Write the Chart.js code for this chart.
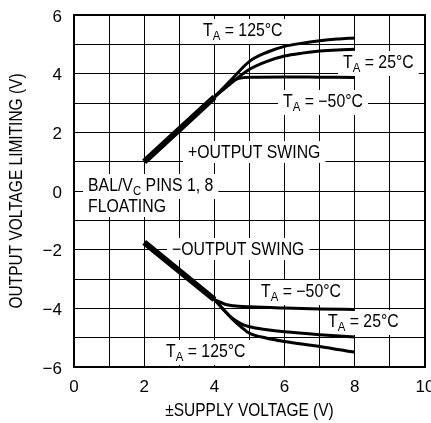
<!DOCTYPE html>
<html>
<head>
<meta charset="utf-8">
<script src="https://cdn.jsdelivr.net/npm/chart.js@4.4.1/dist/chart.umd.min.js"></script>
<style>
  html, body { margin: 0; padding: 0; background: #fff; overflow: hidden; }
  #wrap { width: 431px; height: 423px; }
</style>
</head>
<body>
<div id="wrap"><canvas id="chart" width="431" height="423"></canvas></div>
<script>
// data (x = ±supply voltage, y = output voltage limiting)
const sharedPosX = [2, 4];
const sharedPosY = [1.0, 3.2];
const sharedNegX = [2, 4];
const sharedNegY = [-1.75, -3.7];

const pos125X = [4, 4.5, 5, 5.5, 6, 6.5, 7, 7.5, 8];
const pos125Y = [3.2, 3.82, 4.42, 4.73, 4.93, 5.04, 5.12, 5.18, 5.22];
const pos25X = [4, 4.5, 5, 5.5, 6, 6.5, 7, 7.5, 8];
const pos25Y = [3.2, 3.7, 4.15, 4.42, 4.6, 4.7, 4.77, 4.81, 4.83];
const posM50X = [4, 4.3, 4.5, 4.7, 5, 6, 7, 8];
const posM50Y = [3.2, 3.55, 3.74, 3.84, 3.88, 3.89, 3.88, 3.87];

const negM50X = [4, 4.3, 4.7, 5, 6, 7, 8];
const negM50Y = [-3.7, -3.86, -3.93, -3.95, -3.99, -4.02, -4.04];
const neg25X = [4, 4.5, 4.75, 5, 5.5, 6, 7, 8];
const neg25Y = [-3.7, -4.33, -4.52, -4.63, -4.73, -4.8, -4.9, -4.98];
const neg125X = [4, 4.5, 4.75, 5, 5.5, 6, 7, 8];
const neg125Y = [-3.7, -4.35, -4.62, -4.85, -5.02, -5.13, -5.3, -5.5];

const xTicks = [0, 2, 4, 6, 8, 10];
const yTicks = [-6, -4, -2, 0, 2, 4, 6];
const xTitle = "\u00b1SUPPLY VOLTAGE (V)";
const yTitle = "OUTPUT VOLTAGE LIMITING (V)";

const FONT = "'Liberation Sans', Arial, sans-serif";

function pts(xs, ys) {
  return xs.map((x, i) => ({ x, y: ys[i] }));
}
function curve(xs, ys, w) {
  return {
    data: pts(xs, ys),
    borderColor: "#000",
    borderWidth: w,
    pointRadius: 0,
    showLine: true,
    fill: false,
    cubicInterpolationMode: "monotone",
    borderCapStyle: "butt",
  };
}

// in-plot notes: [x px, baseline px, main, subscript, rest]
const notes = [
  [203, 36, "T", "A", " = 125°C"],
  [343, 68, "T", "A", " = 25°C"],
  [283, 107, "T", "A", " = \u221250°C"],
  [188, 158, "+OUTPUT SWING", "", ""],
  [88, 191, "BAL/V", "C", " PINS 1, 8"],
  [88, 212, "FLOATING", "", ""],
  [172, 255, "\u2212OUTPUT SWING", "", ""],
  [261, 297, "T", "A", " = \u221250°C"],
  [328, 327, "T", "A", " = 25°C"],
  [166, 357, "T", "A", " = 125°C"],
];
const SQ = 0.88; // narrow lettering

const notePlugin = {
  id: "notes",
  beforeDatasetsDraw(chart) {
    const ctx = chart.ctx;
    const big = "18px " + FONT;
    const small = "13px " + FONT;
    notes.forEach(([x, y, a, sub, rest]) => {
      ctx.save();
      ctx.font = big;
      const wa = ctx.measureText(a).width;
      const wr = ctx.measureText(rest).width;
      ctx.font = small;
      const ws = sub ? ctx.measureText(sub).width : 0;
      const w = (wa + ws + wr) * SQ;
      ctx.fillStyle = "#fff";
      ctx.fillRect(x - 5, y - 17, w + 10, sub ? 25 : 22);
      ctx.translate(x, y);
      ctx.scale(SQ, 1);
      ctx.fillStyle = "#000";
      ctx.textBaseline = "alphabetic";
      ctx.textAlign = "left";
      ctx.font = big;
      ctx.fillText(a, 0, 0);
      if (sub) {
        ctx.font = small;
        ctx.fillText(sub, wa, 4);
      }
      ctx.font = big;
      ctx.fillText(rest, wa + ws, 0);
      ctx.restore();
    });
  },
  afterDraw(chart) {
    const { ctx, chartArea: a } = chart;
    ctx.save();
    ctx.strokeStyle = "#000";
    ctx.lineWidth = 2;
    ctx.strokeRect(a.left, a.top, a.right - a.left, a.bottom - a.top);
    // axis titles
    ctx.fillStyle = "#000";
    ctx.font = "18px " + FONT;
    ctx.textAlign = "center";
    ctx.textBaseline = "middle";
    ctx.save();
    ctx.translate((a.left + a.right) / 2, 411);
    ctx.scale(0.86, 1);
    ctx.fillText(xTitle, 0, 0);
    ctx.restore();
    ctx.save();
    ctx.translate(17, (a.top + a.bottom) / 2);
    ctx.rotate(-Math.PI / 2);
    ctx.scale(0.86, 1);
    ctx.fillText(yTitle, 0, 0);
    ctx.restore();
    ctx.restore();
  },
};

new Chart(document.getElementById("chart"), {
  type: "scatter",
  data: {
    datasets: [
      curve(pos125X, pos125Y, 3),
      curve(pos25X, pos25Y, 3),
      curve(posM50X, posM50Y, 3),
      curve(negM50X, negM50Y, 3),
      curve(neg25X, neg25Y, 3),
      curve(neg125X, neg125Y, 3),
      curve(sharedPosX, sharedPosY, 6),
      curve(sharedNegX, sharedNegY, 6),
    ],
  },
  options: {
    responsive: false,
    devicePixelRatio: 1,
    animation: false,
    layout: { padding: { left: 0, top: 15, right: 6, bottom: 0 } },
    plugins: { legend: { display: false }, tooltip: { enabled: false } },
    scales: {
      x: {
        type: "linear",
        min: 0,
        max: 10,
        afterFit: (s) => { s.height = 56; s.paddingLeft = 0; s.paddingRight = 0; },
        ticks: {
          stepSize: 1,
          color: "#000",
          padding: 10,
          maxRotation: 0,
          font: { family: FONT, size: 17 },
          callback: (v) => (xTicks.includes(v) ? String(v) : ""),
        },
        grid: { color: "#000", lineWidth: 1, drawTicks: false },
        border: { display: false },
      },
      y: {
        type: "linear",
        min: -6,
        max: 6,
        afterFit: (s) => { s.width = 74; s.paddingTop = 0; s.paddingBottom = 0; },
        ticks: {
          stepSize: 1,
          color: "#000",
          padding: 12,
          labelOffset: 2,
          font: { family: FONT, size: 17 },
          callback: (v) => (yTicks.includes(v) ? String(v).replace("-", "\u2212") : ""),
        },
        grid: { color: "#000", lineWidth: 1, drawTicks: false },
        border: { display: false },
      },
    },
  },
  plugins: [notePlugin],
});
</script>
</body>
</html>
